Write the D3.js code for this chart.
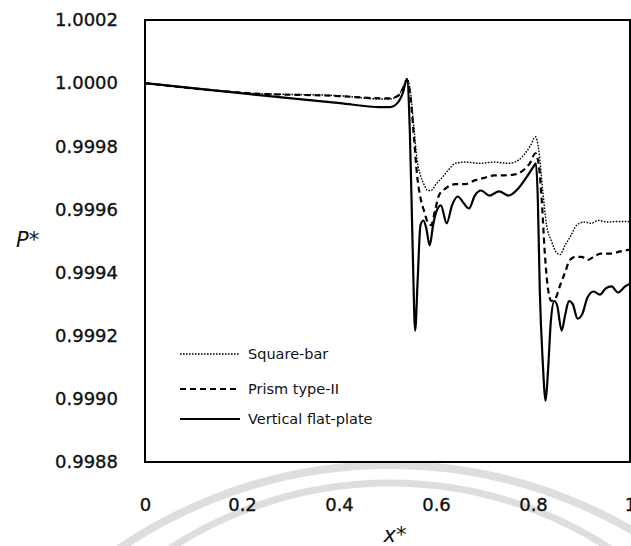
<!DOCTYPE html>
<html>
<head>
<meta charset="utf-8">
<script src="https://cdn.jsdelivr.net/npm/d3@7"></script>
<style>
  body { margin: 0; background: #fff; }
  svg { display: block; }
  text { font-family: "DejaVu Sans", Verdana, sans-serif; fill: #111; }
</style>
</head>
<body>
<div class="container"></div>
<script>
// data
const seriesNames = ['Square-bar', 'Prism type-II', 'Vertical flat-plate'];

const squareX = [0, 0.2165, 0.402, 0.485, 0.505, 0.522, 0.532, 0.540, 0.546, 0.555, 0.561, 0.568, 0.575, 0.583, 0.590, 0.600, 0.612, 0.625, 0.640, 0.660, 0.690, 0.720, 0.750, 0.770, 0.785, 0.795, 0.805, 0.812, 0.820, 0.828, 0.838, 0.848, 0.856, 0.866, 0.878, 0.890, 0.905, 0.920, 0.935, 0.955, 0.975, 1.0];
const squareP = [1.0, 0.999968, 0.99996, 0.99995, 0.99995, 0.999962, 0.999985, 1.000015, 0.999987, 0.99985, 0.999756, 0.999708, 0.99968, 0.99966, 0.99966, 0.99968, 0.9997, 0.999724, 0.999746, 0.99975, 0.999746, 0.99975, 0.999746, 0.999756, 0.99978, 0.999803, 0.99983, 0.999787, 0.99966, 0.99955, 0.9995, 0.999464, 0.999457, 0.999486, 0.999517, 0.99955, 0.99956, 0.999556, 0.999565, 0.99956, 0.999562, 0.999562];

const prismX = [0, 0.2165, 0.402, 0.485, 0.505, 0.522, 0.532, 0.540, 0.548, 0.555, 0.561, 0.567, 0.575, 0.583, 0.590, 0.598, 0.606, 0.620, 0.640, 0.660, 0.680, 0.700, 0.720, 0.740, 0.760, 0.780, 0.795, 0.805, 0.812, 0.818, 0.824, 0.830, 0.838, 0.846, 0.856, 0.866, 0.876, 0.888, 0.900, 0.913, 0.925, 0.940, 0.960, 0.980, 1.0];
const prismP = [1.0, 0.999968, 0.999959, 0.999952, 0.999952, 0.99996, 0.999984, 1.00001, 0.999946, 0.99982, 0.999708, 0.999644, 0.999597, 0.999559, 0.99955, 0.999597, 0.999644, 0.999667, 0.99968, 0.99968, 0.999692, 0.9997, 0.999708, 0.999708, 0.99971, 0.999724, 0.99975, 0.999778, 0.99974, 0.99963, 0.99947, 0.99936, 0.99931, 0.999317, 0.99936, 0.9994, 0.99944, 0.99945, 0.99945, 0.99944, 0.99945, 0.99946, 0.99946, 0.999467, 0.999473];

const plateX = [0, 0.2165, 0.402, 0.485, 0.505, 0.522, 0.532, 0.540, 0.546, 0.552, 0.557, 0.562, 0.568, 0.574, 0.580, 0.587, 0.594, 0.600, 0.610, 0.622, 0.633, 0.645, 0.656, 0.668, 0.680, 0.693, 0.710, 0.730, 0.750, 0.770, 0.785, 0.800, 0.806, 0.810, 0.814, 0.820, 0.826, 0.831, 0.837, 0.844, 0.850, 0.859, 0.866, 0.874, 0.882, 0.892, 0.902, 0.912, 0.925, 0.938, 0.950, 0.962, 0.975, 0.990, 1.0];
const plateP = [1.0, 0.999965, 0.999937, 0.999924, 0.999924, 0.99994, 0.999971, 1.000013, 0.99985, 0.99947, 0.999216, 0.99937, 0.99955, 0.999565, 0.99954, 0.999486, 0.99955, 0.99959, 0.999613, 0.999556, 0.999613, 0.999641, 0.999622, 0.999603, 0.999644, 0.99966, 0.999644, 0.999657, 0.999644, 0.999667, 0.999698, 0.999733, 0.999746, 0.99963, 0.999343, 0.99912, 0.998994, 0.99909, 0.99925, 0.99931, 0.999295, 0.999216, 0.999263, 0.99931, 0.9993, 0.999254, 0.99927, 0.99932, 0.99934, 0.99933, 0.99935, 0.999356, 0.999337, 0.999356, 0.999365];

const xTicks = [0, 0.2, 0.4, 0.6, 0.8, 1];
const yTicks = [0.9988, 0.9990, 0.9992, 0.9994, 0.9996, 0.9998, 1.0000, 1.0002];

const renderChart = () => {
  const width = 631;
  const height = 546;
  const left = 145, right = 630, top = 20, bottom = 462;

  const svg = d3.select('.container').append('svg').attr('width', width).attr('height', height);

  // faint watermark arcs from the scan
  const wm = svg.append('g').attr('class', 'watermark').attr('fill', 'none').attr('stroke', '#dedede');
  wm.append('circle').attr('cx', 390).attr('cy', 945).attr('r', 480).attr('stroke-width', 8);
  wm.append('circle').attr('cx', 390).attr('cy', 885).attr('r', 402).attr('stroke-width', 7);

  const xScale = d3.scaleLinear().domain([0, 1]).range([left, right]);
  const yScale = d3.scaleLinear().domain([0.9988, 1.0002]).range([bottom, top]);

  //axes
  const leftAxis = d3.axisLeft(yScale).tickValues(yTicks).tickFormat(d3.format('.4f')).tickSize(0).tickPadding(27);
  const leftAxisGroup = svg.append('g').attr('class', 'left-axis').attr('transform', `translate(${left},0)`);
  leftAxis(leftAxisGroup);

  const bottomAxis = d3.axisBottom(xScale).tickValues(xTicks).tickFormat(d => d === 0 || d === 1 ? d3.format('d')(d) : d3.format('.1f')(d)).tickSize(0).tickPadding(36);
  const bottomAxisGroup = svg.append('g').attr('class', 'bottom-axis').attr('transform', `translate(0,${bottom})`);
  bottomAxis(bottomAxisGroup);

  svg.selectAll('.domain').remove();
  svg.selectAll('.left-axis text, .bottom-axis text')
    .attr('font-size', 18)
    .attr('font-family', '"DejaVu Sans", Verdana, sans-serif')
    .attr('fill', '#111')
    .attr('stroke', '#111')
    .attr('stroke-width', 0.35);

  //frame
  svg.append('rect')
    .attr('x', left).attr('y', top)
    .attr('width', right - left).attr('height', bottom - top)
    .attr('fill', 'none').attr('stroke', '#000').attr('stroke-width', 2);

  //lines
  const line = d3.line()
    .x(d => xScale(d[0]))
    .y(d => yScale(d[1]))
    .curve(d3.curveMonotoneX);

  const series = [
    { name: seriesNames[0], pts: d3.zip(squareX, squareP), dash: '1.6,1.4', w: 1.4 },
    { name: seriesNames[1], pts: d3.zip(prismX, prismP), dash: '6,4', w: 2.2 },
    { name: seriesNames[2], pts: d3.zip(plateX, plateP), dash: null, w: 2.2 }
  ];

  const linesGroup = svg.append('g').attr('class', 'lines');
  linesGroup.selectAll('path')
    .data(series)
    .join('path')
    .attr('d', d => line(d.pts))
    .attr('fill', 'none')
    .attr('stroke', '#000')
    .attr('stroke-width', d => d.w)
    .attr('stroke-dasharray', d => d.dash);

  //legend
  const legend = svg.append('g').attr('class', 'legend').attr('transform', 'translate(180,354)');
  const rows = legend.selectAll('g').data(series).join('g').attr('transform', (d, i) => `translate(0,${[0, 35, 65][i]})`);
  rows.append('line')
    .attr('x1', 0).attr('x2', 60)
    .attr('stroke', '#000')
    .attr('stroke-width', d => d.w)
    .attr('stroke-dasharray', d => d.dash);
  rows.append('text')
    .text(d => d.name)
    .attr('x', 68)
    .attr('dy', '0.35em')
    .attr('font-size', 14.5);

  //labels
  svg.append('text')
    .text('P*')
    .attr('x', 16)
    .attr('y', 247)
    .attr('font-size', 21)
    .attr('font-style', 'italic');

  svg.append('text')
    .text('x*')
    .attr('x', 395)
    .attr('y', 542)
    .attr('text-anchor', 'middle')
    .attr('font-size', 21)
    .attr('font-style', 'italic');
};

renderChart();
</script>
</body>
</html>
